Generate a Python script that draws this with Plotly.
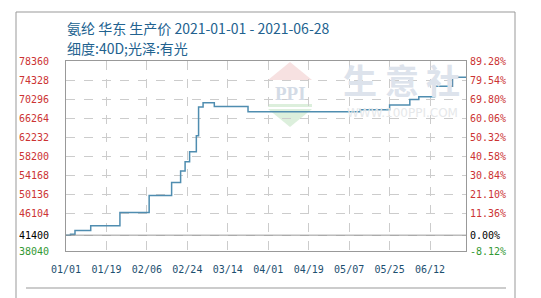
import plotly.graph_objects as go

# ---------------- data ----------------
dates = ["2021-01-01", "2021-01-03", "2021-01-05", "2021-01-12", "2021-01-25",
         "2021-02-07", "2021-02-17", "2021-02-21", "2021-02-23", "2021-02-25",
         "2021-02-28", "2021-03-01", "2021-03-03", "2021-03-08", "2021-03-23",
         "2021-05-12", "2021-05-25", "2021-06-03", "2021-06-07", "2021-06-14",
         "2021-06-22", "2021-06-28"]
prices = [41400, 41600, 42400, 43400, 46200,
          49800, 52600, 55000, 57000, 59100,
          62500, 68600, 69500, 68700, 67600,
          68000, 69000, 70200, 70800, 73000,
          74900, 74900]

base_price = 41400
y_ticks = [38040, 41400, 46104, 50136, 54168, 58200, 62232, 66264, 70296, 74328, 78360]
x_tick_dates = ["2021-01-01", "2021-01-19", "2021-02-06", "2021-02-24", "2021-03-14",
                "2021-04-01", "2021-04-19", "2021-05-07", "2021-05-25", "2021-06-12"]
x_tick_labels = ["01/01", "01/19", "02/06", "02/24", "03/14",
                 "04/01", "04/19", "05/07", "05/25", "06/12"]
title1 = "氨纶 华东 生产价 2021-01-01 - 2021-06-28"
title2 = "细度:40D;光泽:有光"

# ---------------- layout constants ----------------
W, H = 541, 298
L, R, T, B = 66, 75, 61, 47
PW, PH = W - L - R, H - T - B

def px(x):
    return (x - L) / PW

def py(y):
    return (H - B - y) / PH

RED, GREEN, BLACK = "#cc3333", "#339933", "#000000"

def tick_color(v):
    if v > base_price:
        return RED
    if v < base_price:
        return GREEN
    return BLACK

left_text = [f"<span style='color:{tick_color(v)}'>{v}</span>" for v in y_ticks]
right_text = [f"<span style='color:{tick_color(v)}'>{(v - base_price) / base_price * 100:.2f}%</span>"
              for v in y_ticks]

MONO = "DejaVu Sans Mono"

fig = go.Figure()
fig.add_trace(go.Scatter(x=dates, y=prices, mode="lines", line_shape="hv",
                         line=dict(color="#4f8db0", width=1.5),
                         hoverinfo="skip", showlegend=False))
fig.add_trace(go.Scatter(x=dates, y=prices, mode="lines", yaxis="y2",
                         line=dict(color="rgba(0,0,0,0)", width=0),
                         hoverinfo="skip", showlegend=False))

fig.update_layout(
    width=W, height=H,
    margin=dict(l=L, r=R, t=T, b=B, pad=0),
    paper_bgcolor="white", plot_bgcolor="white",
    showlegend=False,
    xaxis=dict(type="date", range=["2021-01-01", "2021-06-28"],
               tickvals=x_tick_dates, ticktext=x_tick_labels,
               tickfont=dict(family=MONO, size=10, color="#1d4f70"),
               showgrid=True, gridcolor="#cccccc", griddash="dash", gridwidth=1,
               showline=True, linecolor="#999999", linewidth=1, mirror=True,
               ticks="", ticklabelstandoff=9, zeroline=False, fixedrange=True),
    yaxis=dict(range=[y_ticks[0], y_ticks[-1]], tickvals=y_ticks, ticktext=left_text,
               tickfont=dict(family=MONO, size=10),
               showgrid=True, gridcolor="#cccccc", griddash="dash", gridwidth=1,
               showline=True, linecolor="#999999", linewidth=1, mirror=True,
               ticks="", ticklabelstandoff=14, zeroline=False, fixedrange=True),
    yaxis2=dict(range=[y_ticks[0], y_ticks[-1]], tickvals=y_ticks, ticktext=right_text,
                overlaying="y", side="right",
                tickfont=dict(family=MONO, size=10),
                showgrid=False, showline=False, ticks="", ticklabelstandoff=3,
                zeroline=False, fixedrange=True),
)

shapes = []
# base line (solid)
shapes.append(dict(type="line", xref="paper", yref="y", x0=0, x1=1,
                   y0=base_price, y1=base_price, line=dict(color="#999999", width=1)))
# outer frame
fc = "#999999"
shapes.append(dict(type="line", xref="paper", yref="paper", x0=px(16), x1=px(515),
                   y0=py(12), y1=py(12), line=dict(color=fc, width=1)))
shapes.append(dict(type="line", xref="paper", yref="paper", x0=px(16), x1=px(16),
                   y0=py(12), y1=py(298), line=dict(color=fc, width=1)))
shapes.append(dict(type="line", xref="paper", yref="paper", x0=px(515), x1=px(515),
                   y0=py(12), y1=py(298), line=dict(color=fc, width=1)))
shapes.append(dict(type="line", xref="paper", yref="paper", x0=px(26), x1=px(506),
                   y0=py(288), y1=py(288), line=dict(color=fc, width=1)))
# watermark logo (faint)
shapes.append(dict(type="path", xref="paper", yref="paper", layer="below",
                   path=f"M {px(268)} {py(80)} L {px(290)} {py(62)} L {px(312)} {py(80)} Z",
                   fillcolor="#f7e1e1", line=dict(width=0)))
shapes.append(dict(type="path", xref="paper", yref="paper", layer="below",
                   path=f"M {px(268)} {py(104)} L {px(312)} {py(104)} L {px(312)} {py(107)} "
                        f"L {px(268)} {py(107)} Z",
                   fillcolor="#dcefdc", line=dict(width=0)))
shapes.append(dict(type="path", xref="paper", yref="paper", layer="below",
                   path=f"M {px(268)} {py(109)} L {px(312)} {py(109)} L {px(290)} {py(127)} Z",
                   fillcolor="#dcefdc", line=dict(width=0)))
fig.update_layout(shapes=shapes)

ann = []
ann.append(dict(text=title1, xref="paper", yref="paper", x=px(65), y=py(27.5),
                xanchor="left", yanchor="middle", showarrow=False,
                font=dict(family="Noto Sans CJK SC", size=14, color="#22628f")))
ann.append(dict(text=title2, xref="paper", yref="paper", x=px(65), y=py(48.5),
                xanchor="left", yanchor="middle", showarrow=False,
                font=dict(family="Noto Sans CJK SC", size=14, color="#22628f")))
# watermark text
ann.append(dict(text="<b>PPI</b>", xref="paper", yref="paper", x=px(290), y=py(93),
                xanchor="center", yanchor="middle", showarrow=False,
                font=dict(family="Liberation Serif", size=19, color="#d3dbe6")))
for ch, cx in zip(["生", "意", "社"], [360, 402, 443]):
    ann.append(dict(text=f"<b>{ch}</b>", xref="paper", yref="paper", x=px(cx), y=py(79),
                    xanchor="center", yanchor="middle", showarrow=False,
                    font=dict(family="Noto Sans CJK SC", size=34, color="#dde3ec")))
ann.append(dict(text="WWW.100PPI.COM", xref="paper", yref="paper", x=px(402), y=py(113),
                xanchor="center", yanchor="middle", showarrow=False,
                font=dict(family="DejaVu Sans", size=12, color="#e6e8ea")))
fig.update_layout(annotations=ann)

fig.write_html("out.html")
